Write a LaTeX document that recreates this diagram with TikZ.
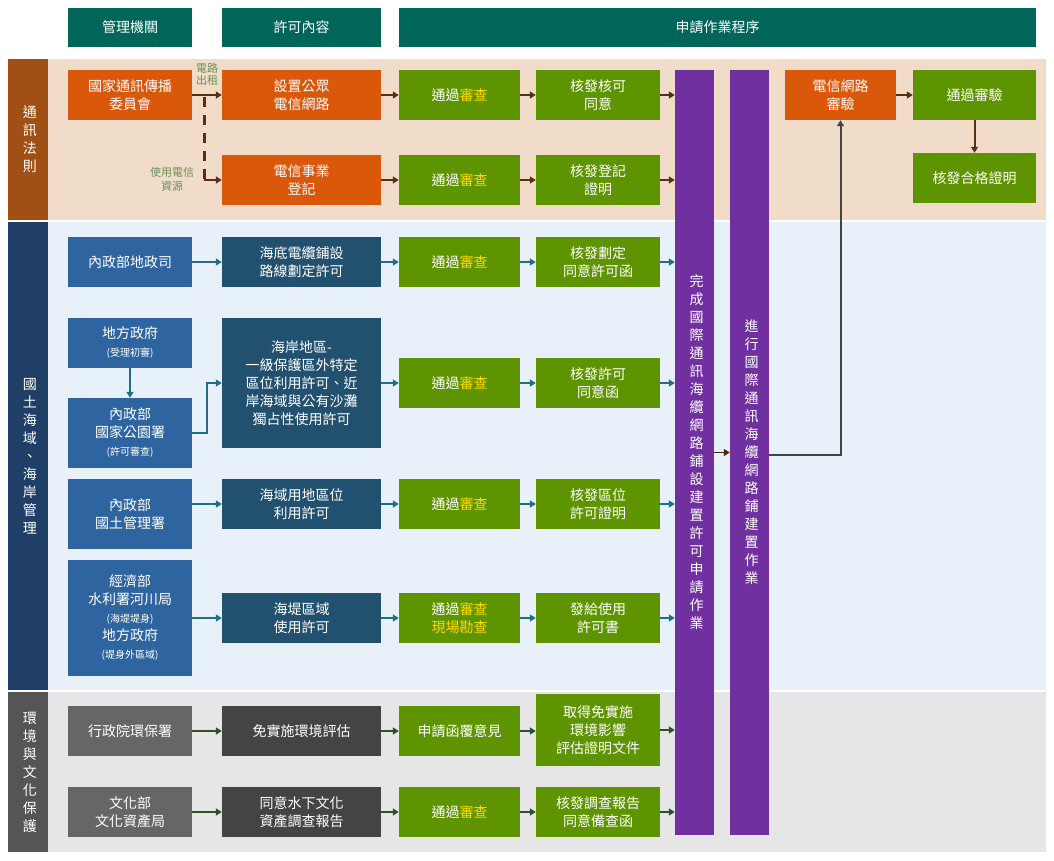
\documentclass[tikz,border=0pt]{standalone}
\usepackage{fontspec}
\setmainfont{Noto Sans CJK TC}
\usetikzlibrary{arrows.meta}
\definecolor{hdr}{HTML}{00665A}
\definecolor{org}{HTML}{D9580A}
\definecolor{grn}{HTML}{5E9400}
\definecolor{ppl}{HTML}{7030A0}
\definecolor{mblue}{HTML}{2E64A0}
\definecolor{dblue}{HTML}{22506F}
\definecolor{gagency}{HTML}{666666}
\definecolor{gcontent}{HTML}{444444}
\definecolor{brn}{HTML}{5A3010}
\definecolor{tealarr}{HTML}{1F6F8B}
\definecolor{darr}{HTML}{2F4F2F}
\definecolor{ylw}{HTML}{FFD800}
\definecolor{lbl}{HTML}{6E8F5A}
\definecolor{bgtel}{HTML}{F0DCC8}
\definecolor{bgland}{HTML}{E8F1FA}
\definecolor{bgenv}{HTML}{E6E6E6}
\definecolor{sidetel}{HTML}{A05014}
\definecolor{sideland}{HTML}{1F3F66}
\definecolor{sideenv}{HTML}{555555}
\newcommand{\revw}{\textcolor{ylw}{審查}}
\tikzset{
  box/.style={rectangle, text=white, align=center, inner sep=0pt, font=\fontsize{14}{18}\selectfont},
  colA/.style={box, minimum width=124pt},
  colB/.style={box, minimum width=159pt},
  colC/.style={box, minimum width=121pt, fill=grn},
  colD/.style={box, minimum width=124pt, fill=grn},
  hbox/.style={box, fill=hdr, minimum height=39pt},
  bar/.style={box, fill=ppl, minimum width=39pt, minimum height=765pt, text width=1em},
  side/.style={box, minimum width=40pt, text width=1em},
  arr/.style={-{Triangle[length=6pt,width=7pt]}, line width=2pt},
}
\begin{document}
\begin{tikzpicture}[x=1pt,y=-1pt]
\useasboundingbox (0,0) rectangle (1054,860);
% section backgrounds
\fill[bgtel] (48,59) rectangle (1046,220);
\fill[bgland] (48,222) rectangle (1046,690);
\fill[bgenv] (48,692) rectangle (1046,852);
\node[side, fill=sidetel, minimum height=161pt] (s1) at (28,139.5) {通\\訊\\法\\則};
\node[side, fill=sideland, minimum height=468pt] (s2) at (28,456) {國\\土\\海\\域\\、\\海\\岸\\管\\理};
\node[side, fill=sideenv, minimum height=160pt] (s3) at (28,772) {環\\境\\與\\文\\化\\保\\護};
% headers
\node[hbox, minimum width=124pt] (h1) at (130,27.5) {管理機關};
\node[hbox, minimum width=159pt] (h2) at (301.5,27.5) {許可內容};
\node[hbox, minimum width=637pt] (h3) at (717.5,27.5) {申請作業程序};

% telecom
\node[colA, fill=org, minimum height=50pt] (ncc) at (130,95) {國家通訊傳播\\委員會};
\node[colB, fill=org, minimum height=50pt] (pub) at (301.5,95) {設置公眾\\電信網路};
\node[colC, minimum height=50pt] (ok1) at (459.5,95) {通過\revw};
\node[colD, minimum height=50pt] (iss1) at (598,95) {核發核可\\同意};
\node[colB, fill=org, minimum height=50pt] (reg) at (301.5,180) {電信事業\\登記};
\node[colC, minimum height=50pt] (ok2) at (459.5,180) {通過\revw};
\node[colD, minimum height=50pt] (iss2) at (598,180) {核發登記\\證明};
\node[text=lbl, align=center, font=\fontsize{11}{12}\selectfont] (lrent) at (207,74) {電路\\出租};
\node[text=lbl, align=center, font=\fontsize{11}{14}\selectfont] (luse) at (172,179) {使用電信\\資源};
\coordinate (dtop) at (204,97);
\coordinate (dbot) at (204,180);
\draw[brn, line width=3pt, dash pattern=on 10pt off 8pt] (dtop) -- (dbot);
\draw[arr, brn] (dbot) -- (reg.west);
\draw[arr, brn] (ncc.east) -- (pub.west);
\draw[arr, brn] (pub) -- (ok1);
\draw[arr, brn] (ok1) -- (iss1);
\draw[arr, brn] (reg) -- (ok2);
\draw[arr, brn] (ok2) -- (iss2);

% purple bars
\node[bar] (done) at (694.5,452.5) {完\\成\\國\\際\\通\\訊\\海\\纜\\網\\路\\鋪\\設\\建\\置\\許\\可\\申\\請\\作\\業};
\node[bar] (build) at (749.5,452.5) {進\\行\\國\\際\\通\\訊\\海\\纜\\網\\路\\鋪\\建\\置\\作\\業};
\draw[-{Triangle[length=6pt,width=7pt]}, line width=1.5pt, brn!80!black] (done) -- (build);
\node[colD, fill=org, minimum width=111pt, minimum height=50pt] (chk) at (840.5,95) {電信網路\\審驗};
\node[colD, minimum width=123pt, minimum height=50pt] (pass) at (974.5,95) {通過審驗};
\node[colD, minimum width=123pt, minimum height=50pt] (cert) at (974.5,178) {核發合格證明};
\draw[arr, brn] (chk) -- (pass);
\draw[arr, brn] (pass) -- (cert);
\draw[line width=2pt, {Triangle[length=6pt,width=7pt]}-, gcontent] (chk.south) |- (build.east |- 0,455);

% land and coast
\node[colA, fill=mblue, minimum height=50pt] (land) at (130,262) {內政部地政司};
\node[colB, fill=dblue, minimum height=50pt] (cable) at (301.5,262) {海底電纜鋪設\\路線劃定許可};
\node[colC, minimum height=50pt] (ok3) at (459.5,262) {通過\revw};
\node[colD, minimum height=50pt] (iss3) at (598,262) {核發劃定\\同意許可函};
\node[colA, fill=mblue, minimum height=50pt] (local) at (130,343) {地方政府\\{\fontsize{10}{12}\selectfont(受理初審)}};
\node[colA, fill=mblue, minimum height=70pt] (park) at (130,433) {內政部\\國家公園署\\{\fontsize{10}{12}\selectfont(許可審查)}};
\node[colB, fill=dblue, minimum height=130pt] (coast) at (301.5,383) {海岸地區-\\一級保護區外特定\\區位利用許可、近\\岸海域與公有沙灘\\獨占性使用許可};
\node[colC, minimum height=50pt] (ok4) at (459.5,383) {通過\revw};
\node[colD, minimum height=50pt] (iss4) at (598,383) {核發許可\\同意函};
\node[colA, fill=mblue, minimum height=70pt] (nlm) at (130,514) {內政部\\國土管理署};
\node[colB, fill=dblue, minimum height=50pt] (sea) at (301.5,504) {海域用地區位\\利用許可};
\node[colC, minimum height=50pt] (ok5) at (459.5,504) {通過\revw};
\node[colD, minimum height=50pt] (iss5) at (598,504) {核發區位\\許可證明};
\node[colA, fill=mblue, minimum height=116pt] (moea) at (130,618) {經濟部\\水利署河川局\\{\fontsize{10}{12}\selectfont(海堤堤身)}\\地方政府\\{\fontsize{10}{12}\selectfont(堤身外區域)}};
\node[colB, fill=dblue, minimum height=50pt] (dike) at (301.5,618) {海堤區域\\使用許可};
\node[colC, minimum height=50pt] (ok6) at (459.5,618) {通過\revw\\\textcolor{ylw}{現場勘查}};
\node[colD, minimum height=50pt] (iss6) at (598,618) {發給使用\\許可書};
\coordinate (bend) at (207,433);
\draw[arr, tealarr] (local) -- (park);
\draw[arr, tealarr] (park.east |- bend) -- (bend) |- (coast.west);
\draw[arr, tealarr] (land) -- (cable);
\draw[arr, tealarr] (cable) -- (ok3);
\draw[arr, tealarr] (ok3) -- (iss3);
\draw[arr, tealarr] (coast.east |- ok4) -- (ok4);
\draw[arr, tealarr] (ok4) -- (iss4);
\draw[arr, tealarr] (nlm.east |- sea) -- (sea);
\draw[arr, tealarr] (sea) -- (ok5);
\draw[arr, tealarr] (ok5) -- (iss5);
\draw[arr, tealarr] (moea.east |- dike) -- (dike);
\draw[arr, tealarr] (dike) -- (ok6);
\draw[arr, tealarr] (ok6) -- (iss6);

% environment and culture
\node[colA, fill=gagency, minimum height=50pt] (epa) at (130,731) {行政院環保署};
\node[colB, fill=gcontent, minimum height=50pt] (eia) at (301.5,731) {免實施環境評估};
\node[colC, minimum height=50pt] (ok7) at (459.5,731) {申請函覆意見};
\node[colD, minimum height=72pt] (iss7) at (598,730) {取得免實施\\環境影響\\評估證明文件};
\node[colA, fill=gagency, minimum height=50pt] (moc) at (130,812) {文化部\\文化資產局};
\node[colB, fill=gcontent, minimum height=50pt] (uw) at (301.5,812) {同意水下文化\\資產調查報告};
\node[colC, minimum height=50pt] (ok8) at (459.5,812) {通過\revw};
\node[colD, minimum height=50pt] (iss8) at (598,812) {核發調查報告\\同意備查函};
\draw[arr, darr] (epa) -- (eia);
\draw[arr, darr] (eia) -- (ok7);
\draw[arr, darr] (ok7) -- (ok7 -| iss7.west);
\draw[arr, darr] (moc) -- (uw);
\draw[arr, darr] (uw) -- (ok8);
\draw[arr, darr] (ok8) -- (iss8);

% into the purple bar
\foreach \src/\col in {iss1/brn, iss2/brn, iss3/tealarr, iss4/tealarr, iss5/tealarr, iss6/tealarr, iss7/darr, iss8/darr}
  \draw[arr, \col] (\src.east) -- (\src.east -| done.west);
\end{tikzpicture}
\end{document}
